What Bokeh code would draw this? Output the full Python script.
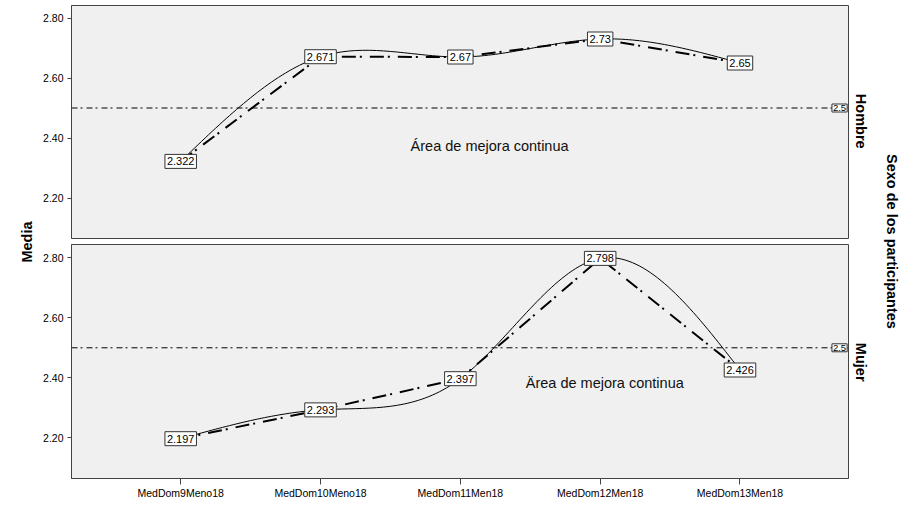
import numpy as np
from bokeh.plotting import figure
from bokeh.layouts import row, column
from bokeh.models import Range1d, FixedTicker, PrintfTickFormatter, Span, Label, ColumnDataSource
from bokeh.core.properties import value
from bokeh.embed import file_html
from bokeh.resources import INLINE

# ---- data ----
categories = ["MedDom9Meno18", "MedDom10Meno18", "MedDom11Men18", "MedDom12Men18", "MedDom13Men18"]
hombre = [2.322, 2.671, 2.67, 2.73, 2.65]
mujer = [2.197, 2.293, 2.397, 2.798, 2.426]
y_ticks = [2.2, 2.4, 2.6, 2.8]
reference_value = 2.5
panel_names = ["Hombre", "Mujer"]
area_texts = ["Área de mejora continua", "Ärea de mejora continua"]
y_axis_title = "Media"
facet_title = "Sexo de los participantes"

FONT = "Liberation Sans"
xs = list(range(1, len(categories) + 1))


def natural_spline(xv, yv, n=40):
    xv = np.asarray(xv, float)
    yv = np.asarray(yv, float)
    k = len(xv)
    h = np.diff(xv)
    A = np.zeros((k, k))
    b = np.zeros(k)
    A[0, 0] = 1.0
    A[-1, -1] = 1.0
    for i in range(1, k - 1):
        A[i, i - 1] = h[i - 1]
        A[i, i] = 2 * (h[i - 1] + h[i])
        A[i, i + 1] = h[i]
        b[i] = 6 * ((yv[i + 1] - yv[i]) / h[i] - (yv[i] - yv[i - 1]) / h[i - 1])
    M = np.linalg.solve(A, b)
    ox, oy = [], []
    for i in range(k - 1):
        t = np.linspace(xv[i], xv[i + 1], n, endpoint=(i == k - 2))
        a = xv[i + 1] - t
        c = t - xv[i]
        s = (M[i] * a ** 3 / (6 * h[i]) + M[i + 1] * c ** 3 / (6 * h[i])
             + (yv[i] / h[i] - M[i] * h[i] / 6) * a
             + (yv[i + 1] / h[i] - M[i + 1] * h[i] / 6) * c)
        ox.extend(t.tolist())
        oy.extend(s.tolist())
    return ox, oy


def make_panel(vals, y_start, y_end, height, b_top, b_bottom, show_x, area_text, area_pos):
    p = figure(width=810, height=height,
               x_range=Range1d(0.219, 5.776), y_range=Range1d(y_start, y_end),
               output_backend="svg", toolbar_location=None,
               min_border_left=30, min_border_right=2,
               min_border_top=b_top, min_border_bottom=b_bottom,
               background_fill_color="#f0f0f0", border_fill_color="white",
               outline_line_color="#444444", outline_line_width=1,
               x_axis_location="below" if show_x else None)
    p.xgrid.visible = False
    p.ygrid.visible = False

    ya = p.yaxis[0]
    ya.ticker = FixedTicker(ticks=y_ticks)
    ya.formatter = PrintfTickFormatter(format="%.2f")
    ya.major_tick_in = 0
    ya.major_tick_out = 4
    ya.minor_tick_in = 0
    ya.minor_tick_out = 0
    ya.major_label_standoff = 4
    ya.major_label_text_font = FONT
    ya.major_label_text_font_size = "10.5px"
    ya.major_label_text_color = "black"
    ya.axis_line_color = "#444444"
    ya.major_tick_line_color = "#444444"

    if show_x:
        xa = p.xaxis[0]
        xa.ticker = FixedTicker(ticks=xs)
        xa.major_label_overrides = {x: c for x, c in zip(xs, categories)}
        xa.major_tick_in = 0
        xa.major_tick_out = 6
        xa.minor_tick_in = 0
        xa.minor_tick_out = 0
        xa.major_label_standoff = 2
        xa.major_label_text_font = FONT
        xa.major_label_text_font_size = "10.5px"
        xa.major_label_text_color = "black"
        xa.axis_line_color = "#444444"
        xa.major_tick_line_color = "#444444"

    p.add_layout(Span(location=reference_value, dimension="width", line_color="black",
                      line_width=1, line_dash="6 3 2 4"))

    # linear dash-dot series
    p.line(xs, vals, line_color="black", line_width=2, line_dash="14 4 2 8")
    # smooth series
    sx, sy = natural_spline(xs, vals)
    p.line(sx, sy, line_color="black", line_width=1)

    src = ColumnDataSource(dict(x=xs, y=vals, label=[f"{v:g}" for v in vals]))
    p.text(x="x", y="y", text="label", source=src,
           text_font=value(FONT), text_font_size=value("11px"), text_color="black",
           text_align="center", text_baseline="middle",
           background_fill_color="white", border_line_color="#333333", padding=(2, 3))

    p.add_layout(Label(x=5.712, y=reference_value, text=f"{reference_value:g}",
                       text_font=FONT, text_font_size="9.5px", text_color="black",
                       text_align="center", text_baseline="middle",
                       background_fill_color="white", border_line_color="#333333", padding=1))
    p.add_layout(Label(x=area_pos[0], y=area_pos[1], text=area_text,
                       text_font=FONT, text_font_size="14.5px", text_color="#111111",
                       text_align="center", text_baseline="middle"))
    return p


top = make_panel(hombre, 2.065, 2.8417, 239, 5, 1, False, area_texts[0], (3.209, 2.375))
bottom = make_panel(mujer, 2.0643, 2.8443, 266, 5, 27, True, area_texts[1], (4.033, 2.384))

H = 505


def strip(width, items):
    s = figure(width=width, height=H, x_range=Range1d(0, width), y_range=Range1d(0, H),
               output_backend="svg", toolbar_location=None, min_border=0,
               x_axis_location=None, y_axis_location=None, outline_line_color=None,
               background_fill_color="white", border_fill_color="white")
    s.xgrid.visible = False
    s.ygrid.visible = False
    for t, x, y, ang in items:
        s.text(x=[x], y=[y], text=[t], angle=ang, text_font=value(FONT),
               text_font_size=value("14.5px"), text_font_style="bold", text_color="black",
               text_align="center", text_baseline="middle")
    return s


left = strip(40, [(y_axis_title, 26, H - 241.5, np.pi / 2)])
right = strip(66, [(panel_names[0], 10, H - 120.7, -np.pi / 2),
                   (panel_names[1], 10, H - 361.7, -np.pi / 2),
                   (facet_title, 41, H - 241, -np.pi / 2)])

layout = row(left, column(top, bottom), right)

open("out.html", "w").write(file_html(layout, INLINE))
